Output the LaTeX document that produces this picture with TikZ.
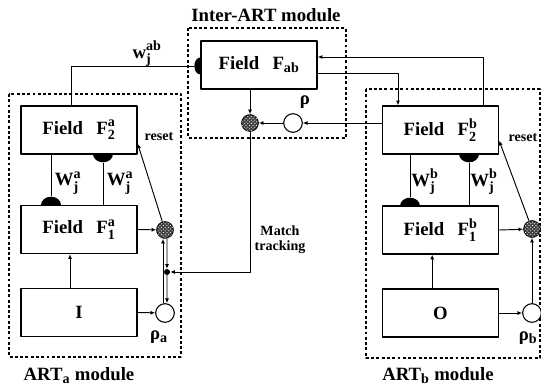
\documentclass[tikz,border=0pt]{standalone}
\usepackage{amsmath}
\usepackage{fontspec}
\setmainfont{Liberation Serif}
\usepackage{tikz}
\usetikzlibrary{arrows.meta,backgrounds,patterns,shapes.geometric}
\newcommand\artsc[1]{\text{\fontsize{12}{12}\selectfont #1}}
\tikzset{
  art diagram/.style={x=0.03cm, y=-0.03cm,
    font=\fontsize{16}{18}\selectfont\bfseries, line join=round},
  art box/.style={draw, fill=white, line width=1.1pt,
    minimum width=3.48cm, minimum height=1.44cm, inner sep=2pt},
  art module/.style={draw, dash pattern=on 2.5pt off 2pt, line width=0.9pt},
  art line/.style={line width=0.8pt},
  art arrow/.style={art line, -{Latex[length=1.4mm,width=1.2mm]}},
  art gate/.style={circle, draw, line width=0.8pt, minimum size=0.5cm,
    inner sep=0pt, fill=black!75,
    postaction={pattern=crosshatch dots, pattern color=white}},
  art vigil/.style={circle, draw, line width=0.9pt, fill=white,
    minimum size=0.56cm, inner sep=0pt},
  art synapse/.style={ellipse, fill=black, inner sep=0pt,
    minimum width=0.6cm, minimum height=0.5cm},
  art junction/.style={circle, fill=black, inner sep=0pt, minimum size=0.18cm},
  art small/.style={font=\fontsize{12}{13}\selectfont\bfseries}
}

\begin{document}
\begin{tikzpicture}[art diagram]
\useasboundingbox (0,0) rectangle (541,389);

% module frames
\draw[art module] (188,28) rectangle (346,138);
\draw[art module] (9,94) rectangle (181,357);
\draw[art module] (366,89) rectangle (540,358);
\node (interlab) at (266,15) {Inter-ART module};
\node (artalab) at (79,376) {ART$_{\artsc{a}}$ module};
\node (artblab) at (438,376) {ART$_{\artsc{b}}$ module};

% fields
\node[art box] (fab) at (259,65) {Field\hspace{0.4cm}F$_{\artsc{ab}}$};
\node[art box] (f2a) at (79,130) {Field\hspace{0.4cm}F$^{\artsc{a}}_{\artsc{2}}$};
\node[art box] (f1a) at (79,229.5) {Field\hspace{0.4cm}F$^{\artsc{a}}_{\artsc{1}}$};
\node[art box] (ina) at (79,312.5) {I};
\node[art box] (f2b) at (440.5,130) {Field\hspace{0.4cm}F$^{\artsc{b}}_{\artsc{2}}$};
\node[art box] (f1b) at (440.5,230) {Field\hspace{0.4cm}F$^{\artsc{b}}_{\artsc{1}}$};
\node[art box] (outb) at (440.5,313) {O};

% adaptive weights
\begin{scope}[on background layer]
\node[art synapse, minimum width=0.34cm] (synab) at (200,66) {};
\node[art synapse] (syn1a) at (51,205) {};
\node[art synapse] (syn2a) at (103,154) {};
\node[art synapse] (syn1b) at (410,206) {};
\node[art synapse] (syn2b) at (469,154) {};
\end{scope}

% orienting and vigilance nodes
\node[art gate] (gab) at (250,123) {};
\node[art gate] (ga) at (165,230) {};
\node[art gate] (gb) at (532,229) {};
\node[art vigil] (rho) at (293,123) {};
\node[art vigil] (rhoa) at (165,313) {};
\node[art vigil] (rhob) at (532,313) {};
\node[art junction] (mtdot) at (167,272) {};

% map field links
\coordinate (wabturn) at (71,66);
\coordinate (fbtop) at (483,57);
\coordinate (fbdown) at (398,73);
\draw[art line] (f2a.north -| wabturn) |- (synab);
\draw[art arrow] (f2b.north -| fbtop) |- (fab.east |- fbtop);
\draw[art arrow] (fab.east |- fbdown) -| (f2b.north -| fbdown);
\draw[art arrow] (fab.south -| gab) -- (gab);
\draw[art arrow] (f2b.west |- rho) -- (rho);
\draw[art arrow] (rho) -- (gab);
\draw[art arrow] (gab) |- (mtdot);

% ART_a
\draw[art line] (f2a.south -| syn1a) -- (syn1a);
\draw[art line] (syn2a) -- (f1a.north -| syn2a);
\draw[art arrow] ([xshift=-2.7mm]ina.north) -- ([xshift=-2.7mm]f1a.south);
\draw[art arrow] (f1a.east) -- (ga);
\draw[art arrow] (ga) -- ([yshift=3.3mm]f2a.south east);
\draw[art arrow] (ina.east) -- (rhoa);
\draw[art arrow] ([xshift=-0.6mm]rhoa.north) -- ([xshift=-0.6mm]ga.south);
\draw[art arrow] ([xshift=0.6mm]ga.south) -- (mtdot);
\draw[art arrow] (mtdot) -- ([xshift=0.6mm]rhoa.north);

% ART_b
\draw[art line] (f2b.south -| syn1b) -- (syn1b);
\draw[art line] (syn2b) -- (f1b.north -| syn2b);
\draw[art arrow] ([xshift=-2.5mm]outb.north) -- ([xshift=-2.5mm]f1b.south);
\draw[art arrow] (f1b.east) -- (gb);
\draw[art arrow] (gb) -- ([yshift=4.2mm]f2b.south east);
\draw[art arrow] (outb.east) -- (rhob);
\draw[art arrow] (rhob) -- (gb);

% labels
\node (wablab) at (147,54) {w$^{\artsc{ab}}_{\artsc{j}}$};
\node (wa1lab) at (68,183) {W$^{\artsc{a}}_{\artsc{j}}$};
\node (wa2lab) at (120,183) {W$^{\artsc{a}}_{\artsc{j}}$};
\node (wb1lab) at (425,182) {W$^{\artsc{b}}_{\artsc{j}}$};
\node (wb2lab) at (484,182) {W$^{\artsc{b}}_{\artsc{j}}$};
\node[art small] (resetalab) at (159,137) {reset};
\node[art small] (resetblab) at (523,138) {reset};
\node[art small, align=center] (matchlab) at (280,240) {Match\\tracking};
\node (rholab) at (305,102) {ρ};
\node (rhoalab) at (159,337) {ρ$_{\artsc{a}}$};
\node (rhoblab) at (528,338) {ρ$_{\artsc{b}}$};
\end{tikzpicture}
\end{document}
